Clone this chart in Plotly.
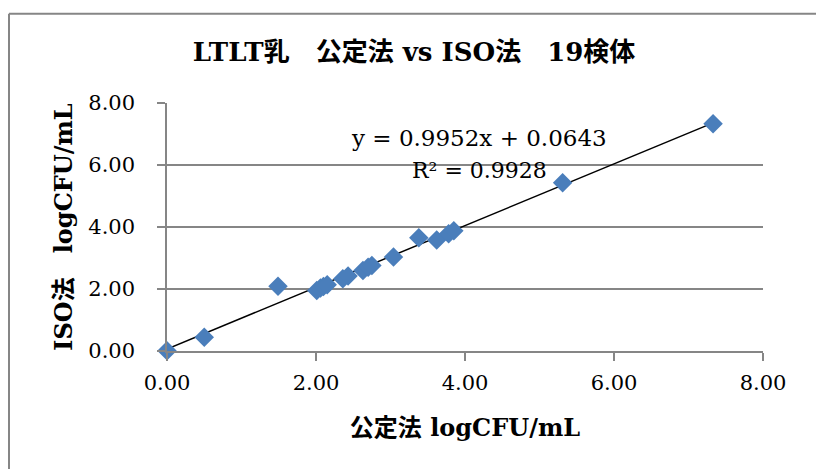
import plotly.graph_objects as go

# Data (公定法 vs ISO法, log CFU/mL)
koutei_x = [0.00, 0.50, 1.49, 2.01, 2.06, 2.10, 2.15, 2.36, 2.43, 2.63,
            2.70, 2.75, 3.04, 3.38, 3.62, 3.78, 3.85, 5.31, 7.33]
iso_y = [0.01, 0.44, 2.09, 1.95, 2.03, 2.08, 2.14, 2.33, 2.42, 2.60,
         2.70, 2.76, 3.03, 3.65, 3.58, 3.78, 3.88, 5.43, 7.33]

slope = 0.9952
intercept = 0.0643
r2 = 0.9928

tick_vals = [0, 2, 4, 6, 8]
tick_text = ["0.00", "2.00", "4.00", "6.00", "8.00"]

title_text = "LTLT乳\u3000公定法 vs ISO法\u300019検体"
x_title = "公定法 logCFU/mL"
y_title = "ISO法\u3000logCFU/mL"

FONT = "DejaVu Serif, Noto Sans CJK JP, serif"

x_min = min(koutei_x)
x_max = max(koutei_x)
trend_x = [x_min, x_max]
trend_y = [slope * v + intercept for v in trend_x]

# figure geometry (body margin removed via post_script)
W, H = 816, 469
L, R, T, B = 167, 53, 103, 118
PW, PH = W - L - R, H - T - B

fig = go.Figure()
fig.add_trace(go.Scatter(
    x=trend_x, y=trend_y, mode="lines",
    line=dict(color="black", width=1.5),
    showlegend=False, hoverinfo="skip", cliponaxis=False,
))
fig.add_trace(go.Scatter(
    x=koutei_x, y=iso_y, mode="markers",
    marker=dict(symbol="diamond", size=15, color="#4a7ebb",
                line=dict(width=0)),
    showlegend=False, cliponaxis=False,
))

fig.add_annotation(
    x=0.523, y=0.859, xref="paper", yref="paper",
    text=f"y = {slope:.4f}x + {intercept:.4f}", showarrow=False,
    font=dict(family=FONT, size=23, color="black"),
    xanchor="center", yanchor="middle",
)
fig.add_annotation(
    x=0.525, y=0.726, xref="paper", yref="paper",
    text=f"R² = {r2:.4f}", showarrow=False,
    font=dict(family=FONT, size=22, color="black"),
    xanchor="center", yanchor="middle",
)

# outer chart-area border: only left and top edges are visible in the reference
bx0 = (9 - L) / PW
by_top = (H - B - 13.7) / PH
fig.add_shape(
    type="line", xref="paper", yref="paper",
    x0=bx0, x1=bx0, y0=(H - B - (H + 40)) / PH, y1=by_top,
    line=dict(color="#868686", width=2), layer="below",
)
fig.add_shape(
    type="line", xref="paper", yref="paper",
    x0=bx0, x1=(W + 40 - L) / PW, y0=by_top, y1=by_top,
    line=dict(color="#868686", width=2), layer="below",
)

fig.update_layout(
    width=W, height=H,
    margin=dict(l=L, r=R, t=T, b=B),
    paper_bgcolor="white", plot_bgcolor="white",
    title=dict(
        text=f"<b>{title_text}</b>", x=414 / W, xanchor="center",
        y=1 - 52 / H, yanchor="middle",
        font=dict(family=FONT, size=26, color="black"),
    ),
    xaxis=dict(
        range=[0, 8], tickvals=tick_vals, ticktext=tick_text,
        showgrid=False, zeroline=False,
        showline=True, linecolor="#868686", linewidth=1.5,
        ticks="outside", ticklen=8, tickcolor="#868686", tickwidth=1.5,
        ticklabelstandoff=4,
        tickfont=dict(family=FONT, size=21, color="black"),
        title=dict(text=f"<b>{x_title}</b>", standoff=25,
                   font=dict(family=FONT, size=24, color="black")),
    ),
    yaxis=dict(
        range=[0, 8], tickvals=tick_vals, ticktext=tick_text,
        showgrid=True, gridcolor="#868686", gridwidth=1.5,
        zeroline=False,
        showline=True, linecolor="#868686", linewidth=1.5,
        ticks="outside", ticklen=8, tickcolor="#868686", tickwidth=1.5,
        ticklabelstandoff=18,
        tickfont=dict(family=FONT, size=21, color="black"),
        title=dict(text=f"<b>{y_title}</b>", standoff=9,
                   font=dict(family=FONT, size=24, color="black")),
    ),
)

fig.write_html(
    "out.html",
    config={"displayModeBar": False},
    post_script="document.body.style.margin='0';"
                "document.documentElement.style.overflow='hidden';",
)
